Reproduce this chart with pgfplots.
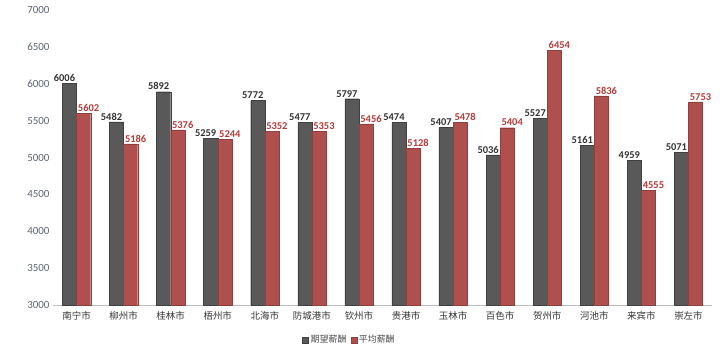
\documentclass[border=0pt]{standalone}
\usepackage{pgfplots}
\pgfplotsset{compat=1.18}
\usepackage{fontspec}
\setmainfont{Carlito}
\newfontfamily\cjk{Noto Sans CJK SC}
\definecolor{sA}{HTML}{595959}
\definecolor{sB}{HTML}{B0504E}
\definecolor{lA}{HTML}{333333}
\definecolor{lB}{HTML}{B83A38}
\definecolor{tk}{HTML}{5B6573}
\begin{document}
\begin{tikzpicture}
\useasboundingbox (0,0) rectangle (720bp,351bp);
\begin{axis}[
  at={(53bp,46bp)}, anchor=south west,
  scale only axis, width=659bp, height=295bp,
  ybar=0pt, bar width=0.3,
  xmin=-0.5, xmax=13.5, ymin=3000, ymax=7000,
  ytick distance=500,
  xtick=data,
  xticklabels={南宁市,柳州市,桂林市,梧州市,北海市,防城港市,钦州市,贵港市,玉林市,百色市,贺州市,河池市,来宾市,崇左市},
  x tick label style={font=\cjk\fontsize{9.5}{10}\selectfont, text=black!80, yshift=1bp},
  y tick label style={font=\fontsize{11}{12}\selectfont, text=tk},
  /pgf/number format/assume math mode=true,
  /pgf/number format/1000 sep={},
  axis lines*=left,
  y axis line style={draw=none},
  x axis line style={draw=black!25},
  major tick style={draw=none},
  clip=false,
  nodes near coords,
  every node near coord/.append style={font=\bfseries\fontsize{10.5}{12}\selectfont, inner sep=1.5pt, /pgf/number format/1000 sep={}},
  legend style={draw=none, at={(0.45,-0.118)}, anchor=center, font=\cjk\fontsize{9}{10}\selectfont, text=black!70, legend columns=2, /tikz/every even column/.append style={column sep=2pt}},
  legend image code/.code={\fill[#1] (0bp,-3bp) rectangle (6bp,3bp);},
]
\addplot[fill=sA, draw=black!75, line width=0.3pt, every node near coord/.append style={text=lA, xshift=-5bp}] coordinates {
(0,6006) (1,5482) (2,5892) (3,5259) (4,5772) (5,5477) (6,5797) (7,5474) (8,5407) (9,5036) (10,5527) (11,5161) (12,4959) (13,5071)};
\addplot[fill=sB, draw=sB!80!black, line width=0.3pt, every node near coord/.append style={text=lB, xshift=5bp}] coordinates {
(0,5602) (1,5186) (2,5376) (3,5244) (4,5352) (5,5353) (6,5456) (7,5128) (8,5478) (9,5404) (10,6454) (11,5836) (12,4555) (13,5753)};
\legend{期望薪酬,平均薪酬}
\end{axis}
\end{tikzpicture}
\end{document}
